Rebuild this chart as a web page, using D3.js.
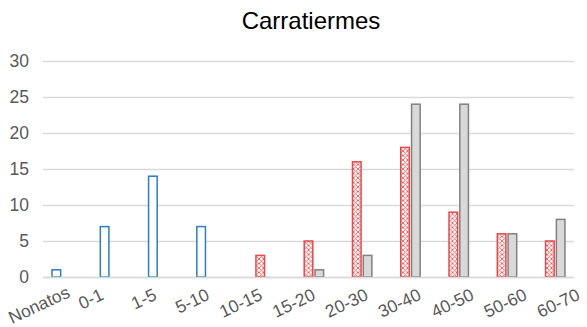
<!DOCTYPE html>
<html>
<head>
<meta charset="utf-8">
<script src="https://cdn.jsdelivr.net/npm/d3@7"></script>
<style>
  html, body { margin: 0; padding: 0; background: #fff; }
  svg { display: block; font-family: "Liberation Sans", Arial, sans-serif; }
</style>
</head>
<body>
<svg id="chart" width="587" height="327"></svg>
<script>
// Age groups and burial counts per series
const categories = ["Nonatos", "0-1", "1-5", "5-10", "10-15", "15-20", "20-30", "30-40", "40-50", "50-60", "60-70"];
const seriesInfantil = [1, 7, 14, 7, 0, 0, 0, 0, 0, 0, 0];
const seriesFemenino = [0, 0, 0, 0, 3, 5, 16, 18, 9, 6, 5];
const seriesMasculino = [0, 0, 0, 0, 0, 1, 3, 24, 24, 6, 8];
const yTicks = [0, 5, 10, 15, 20, 25, 30];

const svg = d3.select("#chart");
const W = 587, H = 327;
const margin = { top: 61, right: 13, bottom: 50, left: 43 };
const plotW = W - margin.left - margin.right;
const plotH = H - margin.top - margin.bottom;

// Hatch pattern for the red series
const defs = svg.append("defs");
const pat = defs.append("pattern")
  .attr("id", "hatch")
  .attr("patternUnits", "userSpaceOnUse")
  .attr("width", 4.5).attr("height", 4.5);
pat.append("rect").attr("width", 4.5).attr("height", 4.5).attr("fill", "#fff");
pat.append("path").attr("d", "M0,0 L4.5,4.5 M4.5,0 L0,4.5")
  .attr("stroke", "#ec5c5c").attr("stroke-width", 0.9);

const g = svg.append("g").attr("transform", `translate(${margin.left},${margin.top})`);

const x = d3.scaleBand().domain(categories).range([0, plotW]).padding(0);
const y = d3.scaleLinear().domain([0, 30]).range([plotH, 0]);

// Gridlines
g.append("g").selectAll("line").data(yTicks).join("line")
  .attr("x1", 0).attr("x2", plotW)
  .attr("y1", d => y(d) + 0.5).attr("y2", d => y(d) + 0.5)
  .attr("stroke", "#d9d9d9").attr("stroke-width", 1.3);

// Y axis labels
const yAxis = d3.axisLeft(y).tickValues(yTicks).tickSize(0).tickPadding(14);
g.append("g").call(yAxis)
  .call(s => s.select(".domain").remove())
  .selectAll("text")
  .attr("fill", "#595959").style("font-size", "17.5px")
  .style("font-family", "'Liberation Sans', Arial, sans-serif");

// Bars: three series laid side by side in each band
const barW = 8.6;
const step = 10.8;
const series = [
  { values: seriesInfantil, offset: -1, fill: "#fff", stroke: "#2e7cc4" },
  { values: seriesFemenino, offset: 0, fill: "url(#hatch)", stroke: "#e84848" },
  { values: seriesMasculino, offset: 1, fill: "#d9d9d9", stroke: "#808080" }
];
series.forEach(s => {
  g.append("g").selectAll("rect")
    .data(categories.map((c, i) => ({ c, v: s.values[i] })).filter(d => d.v > 0))
    .join("rect")
    .attr("x", d => x(d.c) + x.bandwidth() / 2 + s.offset * step - barW / 2)
    .attr("y", d => y(d.v))
    .attr("width", barW)
    .attr("height", d => y(0) - y(d.v))
    .attr("fill", s.fill)
    .attr("stroke", s.stroke)
    .attr("stroke-width", 1.5);
});

// Baseline
g.append("line")
  .attr("x1", 0).attr("x2", plotW)
  .attr("y1", y(0) + 0.5).attr("y2", y(0) + 0.5)
  .attr("stroke", "#d9d9d9").attr("stroke-width", 1.3);

// X axis labels: rotated, spread along the axis, kept inside the left and bottom edges
const angle = 25;
const rad = angle * Math.PI / 180;
const labelX = d3.scalePoint().domain(categories).range([52, 581]);
const labels = svg.append("g").selectAll("text").data(categories).join("text")
  .attr("text-anchor", "end")
  .attr("fill", "#595959")
  .style("font-size", "17.5px")
  .text(d => d);
labels.each(function (d) {
  const len = this.getComputedTextLength();
  const ex = Math.max(labelX(d), 12 + len * Math.cos(rad));
  const ey = Math.min(margin.top + plotH + 22, H - 3 - len * Math.sin(rad));
  d3.select(this).attr("transform", `translate(${ex},${ey}) rotate(${-angle})`);
});

// Title
svg.append("text")
  .attr("x", 311).attr("y", 29)
  .attr("text-anchor", "middle")
  .attr("fill", "#000")
  .style("font-size", "24px")
  .text("Carratiermes");
</script>
</body>
</html>
